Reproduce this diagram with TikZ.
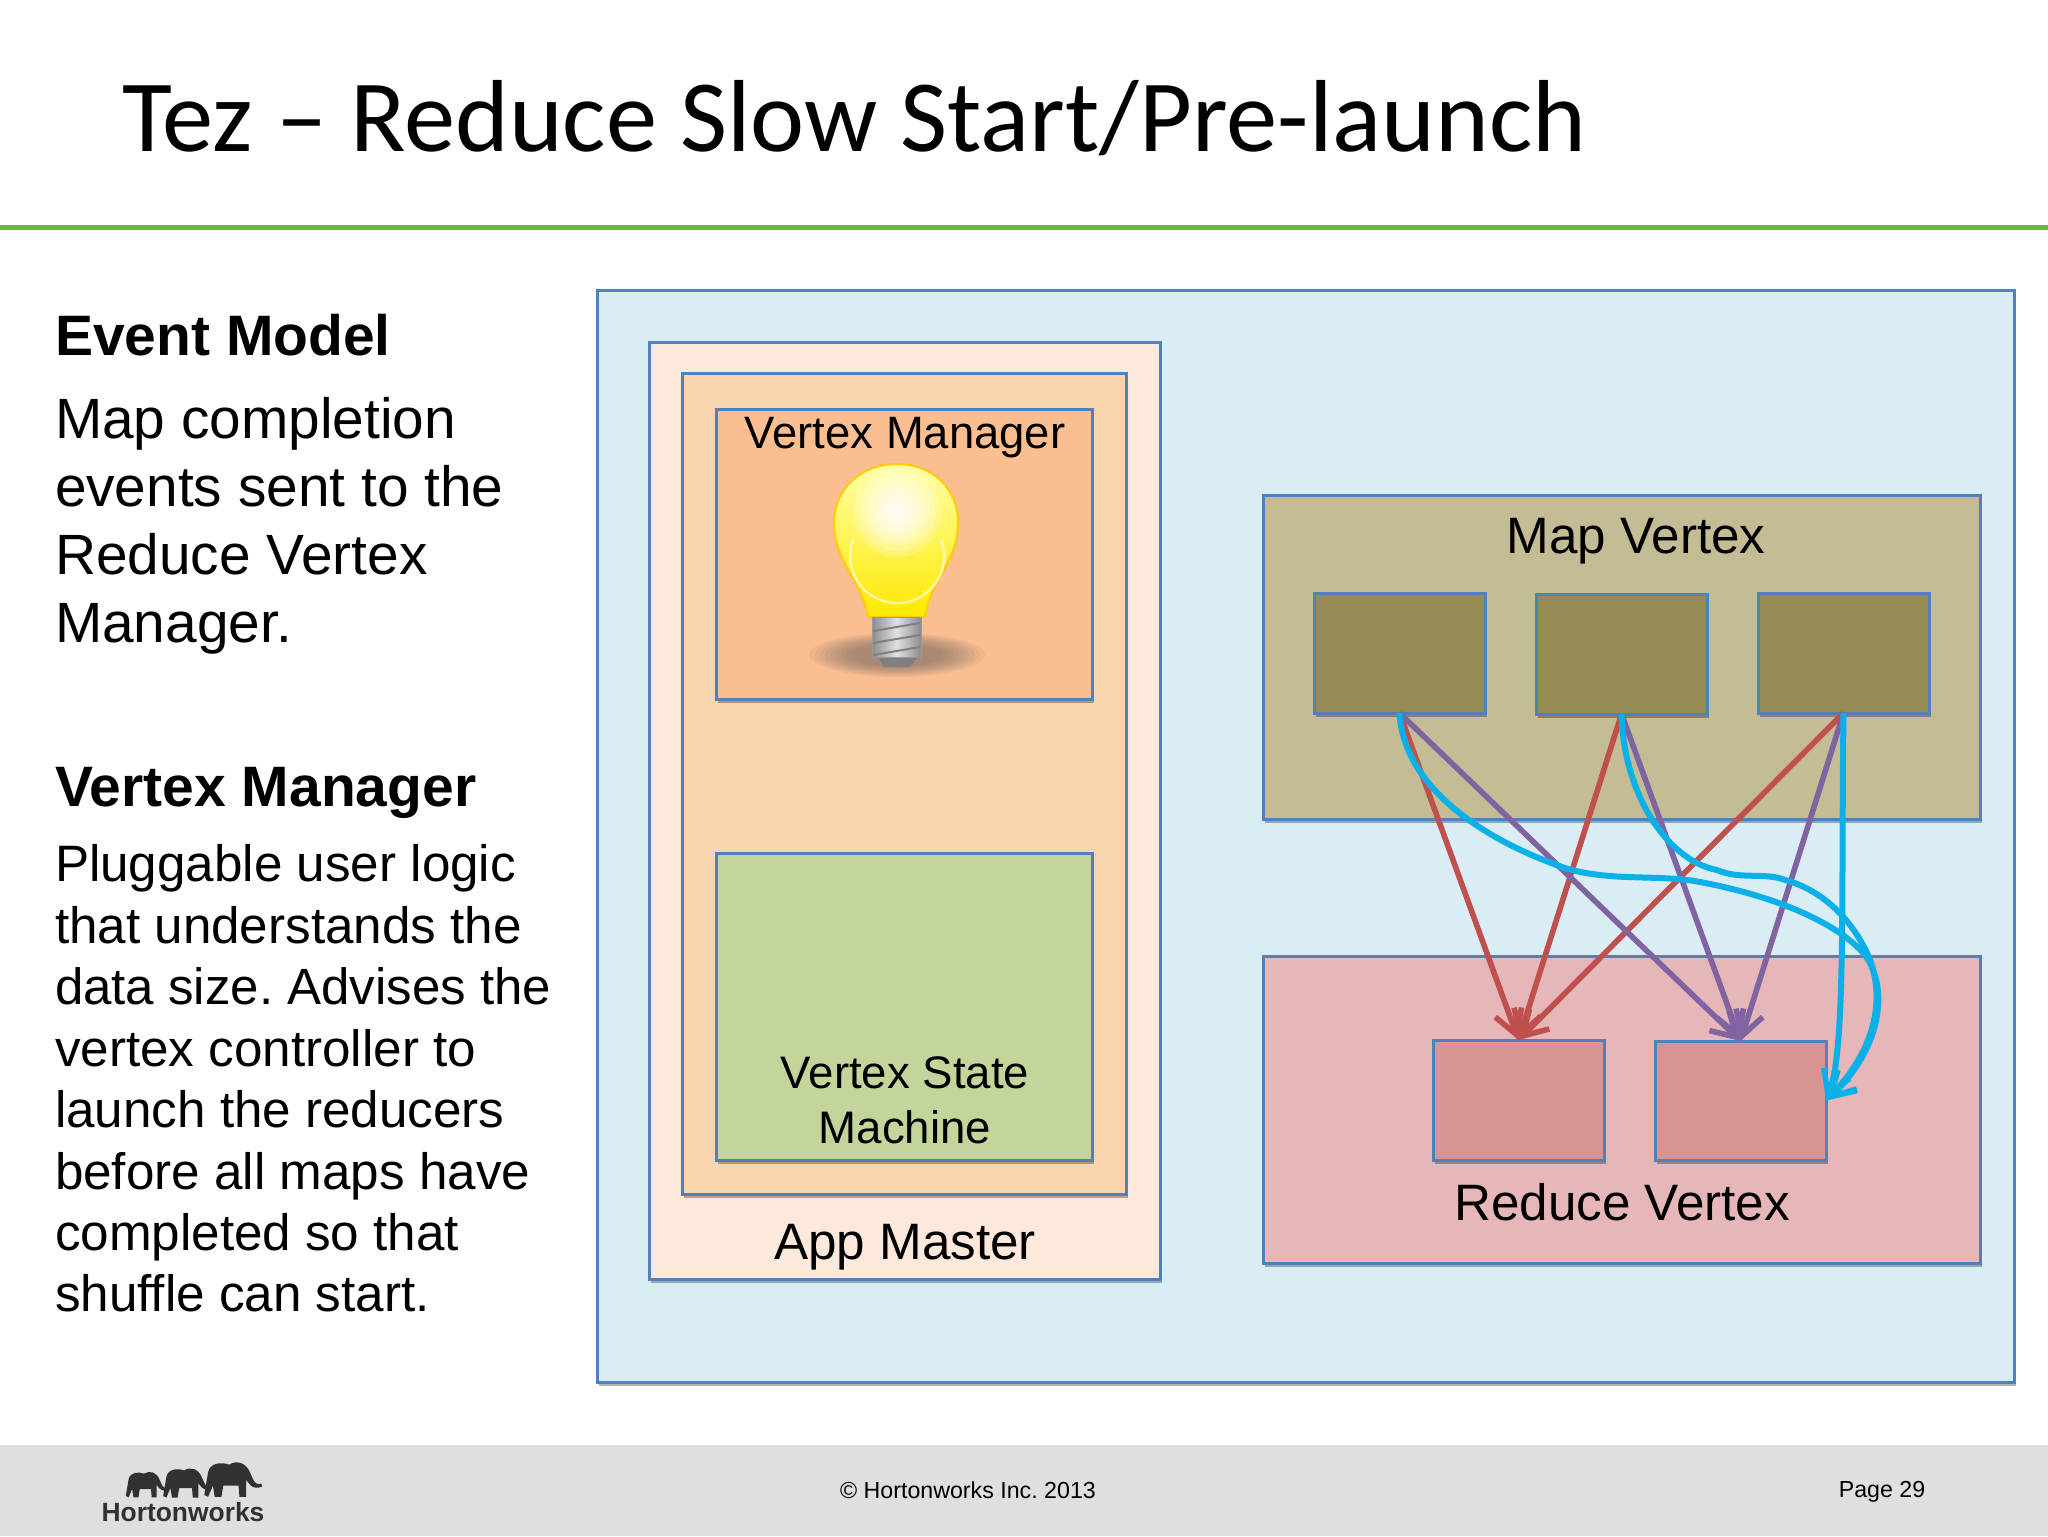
\documentclass[tikz,border=0pt]{standalone}
\usepackage{fontspec}
\setmainfont{Liberation Sans}
\newfontfamily\titlefont{Carlito}
\usetikzlibrary{arrows.meta,shadows}
\newcommand{\fs}[1]{\fontsize{#1}{#1}\selectfont}
\frenchspacing
\tikzset{
  x=0.5pt,y=-0.5pt,
  pane/.style={draw=boxedge,line width=1.5pt,inner sep=0,outer sep=0,anchor=north west,
     drop shadow={shadow xshift=0.8pt,shadow yshift=-1.9pt,fill=black,opacity=.3}},
  lbl/.style={inner sep=0,outer sep=0,anchor=base,text=black},
  line/.style={inner sep=0,outer sep=0,anchor=base west,text=black},
  redarrow/.style={draw=arrowred,line width=2.8pt,-{Straight Barb[length=12pt,width=14pt,line width=2.8pt]}},
  purplearrow/.style={draw=arrowpurple,line width=2.8pt,-{Straight Barb[length=12pt,width=14pt,line width=2.8pt]}},
  cyanarrow/.style={draw=arrowcyan,line width=3pt,-{Straight Barb[length=12pt,width=14pt,line width=2.8pt]}},
}
\definecolor{boxedge}{HTML}{4F81BD}
\definecolor{arrowred}{HTML}{C0504D}
\definecolor{arrowpurple}{HTML}{8064A2}
\definecolor{arrowcyan}{HTML}{0CB0E8}
\definecolor{outerblue}{HTML}{DBEDF4}
\definecolor{appfill}{HTML}{FDE8DC}
\definecolor{innerfill}{HTML}{F9D5AF}
\definecolor{vmfill}{HTML}{FBBE91}
\definecolor{vsmfill}{HTML}{C3D59A}
\definecolor{mapfill}{HTML}{C4BC95}
\definecolor{mapbox}{HTML}{948B55}
\definecolor{redfill}{HTML}{E6B6B8}
\definecolor{redbox}{HTML}{D99392}
\definecolor{rulegreen}{HTML}{6FB63A}
\definecolor{footgray}{HTML}{DDDFE0}
\definecolor{logoink}{HTML}{2F3133}
\definecolor{glasspale}{HTML}{FFFFA8}
\definecolor{glassmid}{HTML}{FFFB70}
\definecolor{glassfoot}{HTML}{FFE800}
\begin{document}
\begin{tikzpicture}
\useasboundingbox (0,0) rectangle (2048,1536);
\fill[white] (0,0) rectangle (2048,1536);
% footer and rule
\fill[footgray] (0,1445) rectangle (2048,1536);
\fill[rulegreen] (0,225) rectangle (2048,230);
% title
\node[line] (title) at (122,151) {\titlefont\fs{51.2}Tez – Reduce Slow Start/Pre-launch};
% left text
\node[line] (h1) at (55,355) {\fs{28.5}\bfseries Event Model};
\node[line] (t1a) at (55,438) {\fs{28.4}Map completion};
\node[line] (t1b) at (55,506) {\fs{28.4}events sent to the};
\node[line] (t1c) at (55,574) {\fs{28.4}Reduce Vertex};
\node[line] (t1d) at (55,642) {\fs{28.4}Manager.};
\node[line] (h2) at (55,806) {\fs{28.5}\bfseries Vertex Manager};
\node[line] (t2a) at (55,881) {\fs{25.6}Pluggable user logic};
\node[line] (t2b) at (55,943) {\fs{25.6}that understands the};
\node[line] (t2c) at (55,1004) {\fs{25.5}data size. Advises the};
\node[line] (t2d) at (55,1066) {\fs{25.6}vertex controller to};
\node[line] (t2e) at (55,1127) {\fs{25.6}launch the reducers};
\node[line] (t2f) at (55,1189) {\fs{25.6}before all maps have};
\node[line] (t2g) at (55,1250) {\fs{25.6}completed so that};
\node[line] (t2h) at (55,1311) {\fs{25.6}shuffle can start.};
% panes
\node[pane,fill=outerblue,minimum width=708.5pt,minimum height=546pt] (outer) at (597,290) {};
\node[pane,fill=appfill,minimum width=255.5pt,minimum height=468.5pt] (app) at (649,342) {};
\node[pane,fill=innerfill,minimum width=222pt,minimum height=410.5pt] (inner) at (682,373) {};
\node[pane,fill=vmfill,minimum width=188pt,minimum height=145pt] (vm) at (716,409) {};
\node[pane,fill=vsmfill,minimum width=188pt,minimum height=153.5pt] (vsm) at (716,853) {};
\node[pane,fill=mapfill,minimum width=358.5pt,minimum height=162pt] (mapv) at (1263,495) {};
\node[pane,fill=mapbox,minimum width=85.5pt,minimum height=60pt] (m1) at (1314,593) {};
\node[pane,fill=mapbox,minimum width=85.5pt,minimum height=60pt] (m2) at (1536,594) {};
\node[pane,fill=mapbox,minimum width=85.5pt,minimum height=60pt] (m3) at (1758,593) {};
\node[pane,fill=redfill,minimum width=358.5pt,minimum height=153.5pt] (redv) at (1263,956) {};
\node[pane,fill=redbox,minimum width=85.5pt,minimum height=60pt] (r1) at (1433,1040) {};
\node[pane,fill=redbox,minimum width=85.5pt,minimum height=59.5pt] (r2) at (1655,1041) {};
% labels
\node[lbl] (lvm) at (905,448) {\fs{22.7}Vertex Manager};
\node[lbl] (lvs1) at (905,1088) {\fs{22.8}Vertex State};
\node[lbl] (lvs2) at (905,1143) {\fs{22.8}Machine};
\node[lbl] (lapp) at (905,1259) {\fs{25.6}App Master};
\node[lbl] (lmap) at (1636,553) {\fs{25.6}Map Vertex};
\node[lbl] (lred) at (1622,1220) {\fs{25.6}Reduce Vertex};
% bulb
\foreach \k in {1,0.94,0.88,0.82,0.76,0.70,0.64,0.58,0.52}{
  \fill[black!65,opacity=.07] (897,655) ellipse ({88*\k} and {22*\k});
}
\shade[top color=glasspale,middle color=glassmid,bottom color=glassfoot,draw=orange!40!yellow,line width=1pt]
  (868,617) .. controls (862,580) and (834,562) .. (834,523)
  .. controls (834,488) and (862,464) .. (897,464)
  .. controls (932,464) and (958,488) .. (958,523)
  .. controls (958,562) and (930,580) .. (925,617) -- cycle;
\foreach \r in {44,38,32,27,22,18,14,10,7}{
  \fill[white,opacity=.22] (897,513) circle[radius=\r];
}
\draw[white,opacity=.6,line width=1.2pt] (853,540) arc[start angle=200,end angle=-20,radius=47];
\fill[black!50] (877,655) -- (884,667) -- (910,667) -- (920,655) -- cycle;
\shade[left color=black!45,right color=black!45,middle color=black!12,draw=black!40,line width=.4pt] (872,617) rectangle (921,657);
\foreach \yy in {631,643,655}{
  \draw[black!50,line width=1pt] (873,\yy) -- (920,{\yy-8});
}
% connectors
\draw[redarrow] (m1.south) -- (r1.north);
\draw[redarrow] (m2.south) -- (r1.north);
\draw[redarrow] (m3.south) -- (r1.north);
\draw[purplearrow] (m1.south) -- (r2.north);
\draw[purplearrow] (m2.south) -- (r2.north);
\draw[purplearrow] (m3.south) -- (r2.north);
\draw[cyanarrow] (m1.south) .. controls (1403,780) and (1470,835) .. (1565,868)
  .. controls (1610,882) and (1660,874) .. (1700,882)
  .. controls (1780,897) and (1840,925) .. (1865,955)
  .. controls (1890,990) and (1880,1050) .. (r2.east);
\draw[cyanarrow] (m2.south) .. controls (1623,790) and (1665,860) .. (1717,870)
  .. controls (1740,880) and (1765,872) .. (1785,880)
  .. controls (1830,892) and (1858,930) .. (1870,960)
  .. controls (1885,1000) and (1875,1050) .. (r2.east);
\draw[cyanarrow] (m3.south) .. controls (1841,900) and (1846,1050) .. (r2.east);
% footer text
\node[lbl] (copy) at (968,1498) {\fs{11.6}© Hortonworks Inc. 2013};
\node[lbl] (page) at (1882,1497) {\fs{11.6}Page 29};
% logo
\foreach \ex/\ey/\es in {144/1482/0.7,184/1480/0.8,229/1476/0.95}{
  \begin{scope}[shift={(\ex,\ey)},scale=\es]
  \fill[logoink] (-22,-4) .. controls (-20,-14) and (-8,-15) .. (0,-12)
     .. controls (8,-17) and (18,-14) .. (22,-4)
     .. controls (26,4) and (26,10) .. (34,8) -- (35,11) .. controls (24,16) and (20,6) .. (18,4)
     -- (18,22) -- (11,22) -- (10,10) -- (-6,10) -- (-8,22) -- (-15,22) -- (-17,10) -- (-22,22) -- (-26,20) -- cycle;
  \end{scope}
}
\node[lbl,text=logoink] (logo) at (183,1521) {\fs{13.2}\bfseries Hortonworks};
\end{tikzpicture}
\end{document}
